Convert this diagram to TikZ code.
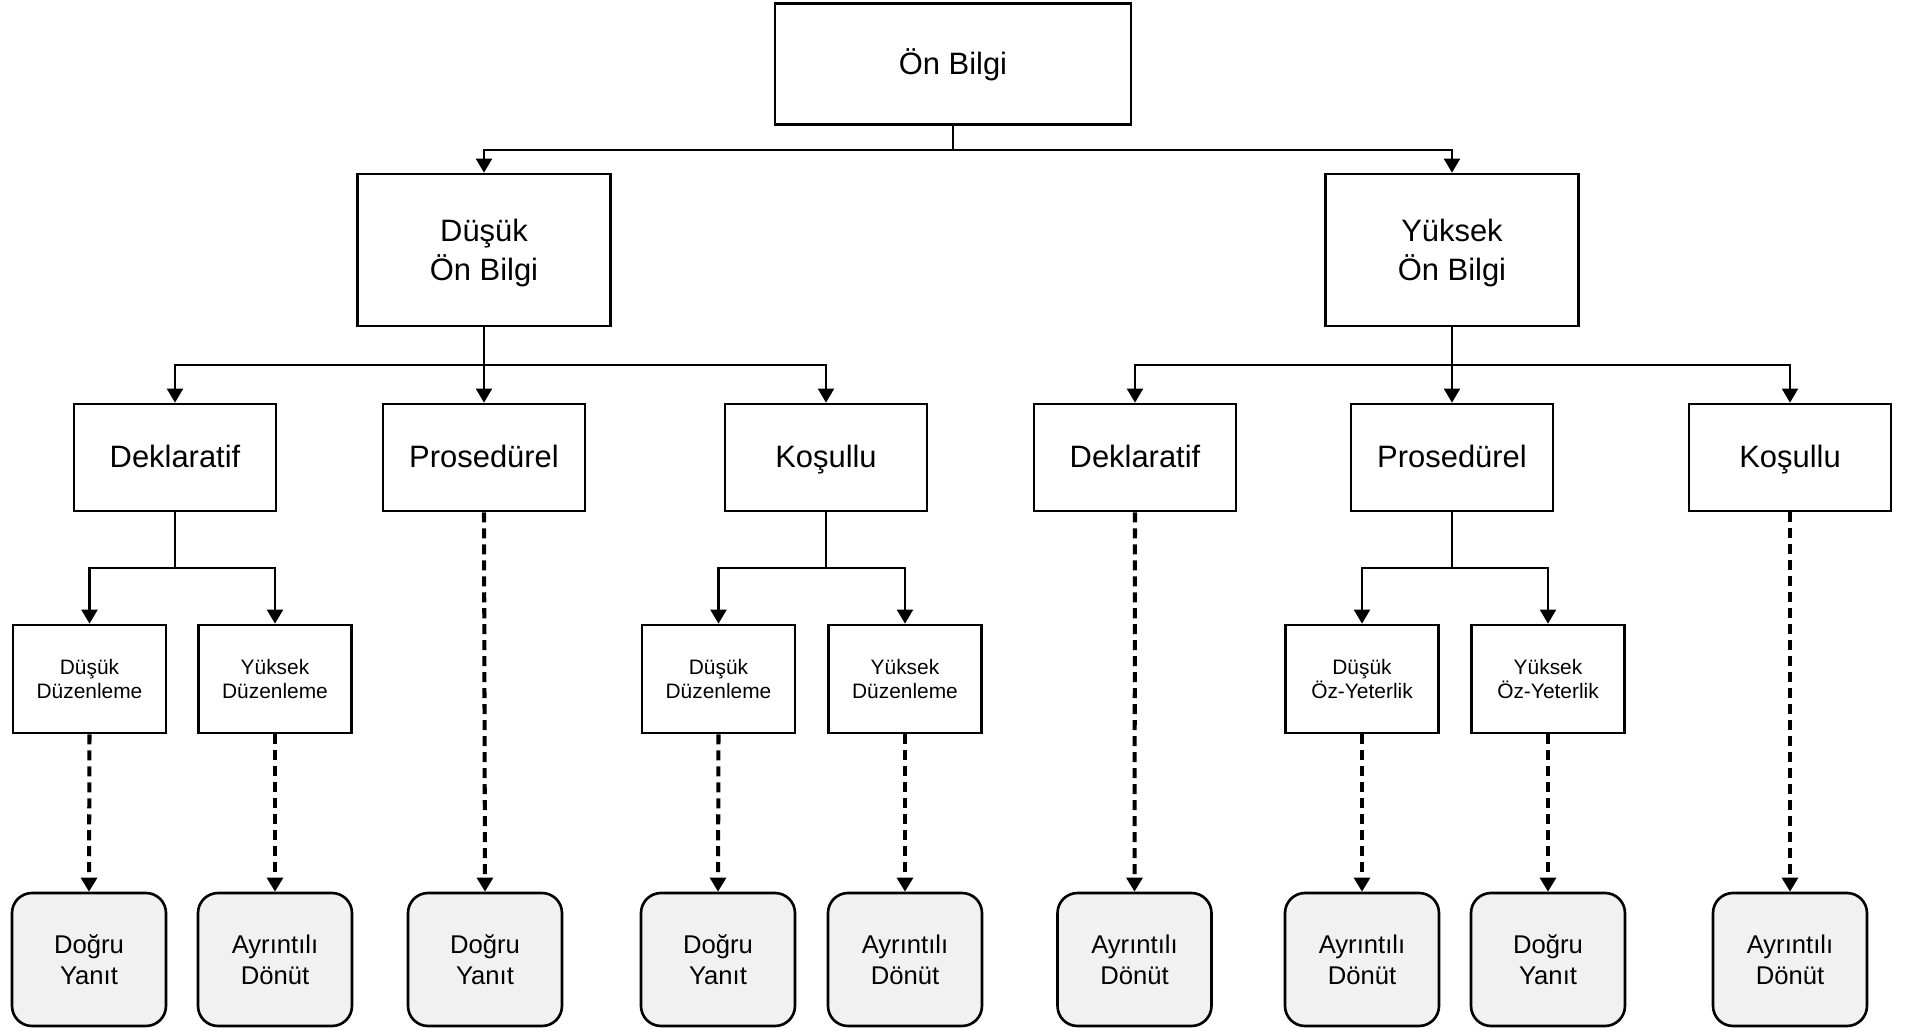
\documentclass[tikz,border=0pt]{standalone}
\usepackage{fontspec}
\setmainfont{Liberation Sans}
\usetikzlibrary{arrows.meta}
\definecolor{leafgray}{HTML}{F1F1F1}
\tikzset{
  box/.style={draw=black, line width=1.5pt, fill=white, align=center, inner sep=0pt},
  bigbox/.style={box, font=\fontsize{17.6}{22.3}\selectfont},
  levelbox/.style={bigbox, text depth=0pt},
  typebox/.style={bigbox, text height=12.6pt, text depth=0.8pt},
  smallbox/.style={box, font=\fontsize{11.9}{13.7}\selectfont},
  leaf/.style={draw=black, line width=1.5pt, fill=leafgray, rounded corners=0.4cm,
    align=center, inner sep=0pt, font=\fontsize{14.6}{17.5}\selectfont},
  conn/.style={line width=1.5pt},
  arr/.style={conn, -{Triangle[width=9pt,length=8pt]}},
  darr/.style={line width=2.3pt, dash pattern=on 5.7pt off 3.4pt,
    -{Triangle[width=9pt,length=8pt]}},
}
\begin{document}
\begin{tikzpicture}[x=0.02cm, y=-0.02cm]
\useasboundingbox (0,0) rectangle (1908,1031);

% root
\node[typebox, minimum width=7.12cm, minimum height=2.42cm] (root) at (953,64) {Ön Bilgi};

% prior knowledge levels
\node[levelbox, minimum width=5.06cm, minimum height=3.04cm] (low) at (484,250) {Düşük\\Ön Bilgi};
\node[levelbox, minimum width=5.06cm, minimum height=3.04cm] (high) at (1452,250) {Yüksek\\Ön Bilgi};

% knowledge types
\foreach \n/\x/\t in {ld/175/Deklaratif, lp/484/Prosedürel, lk/826/Koşullu,
                      hd/1135/Deklaratif, hp/1452/Prosedürel, hk/1790/Koşullu}
  \node[typebox, minimum width=4.04cm, minimum height=2.14cm] (\n) at (\x,457.5) {\t};

% moderators
\node[smallbox, minimum width=3.06cm, minimum height=2.16cm] (ldl) at (89.5,679) {Düşük\\Düzenleme};
\node[smallbox, minimum width=3.06cm, minimum height=2.16cm] (ldh) at (275,679) {Yüksek\\Düzenleme};
\node[smallbox, minimum width=3.06cm, minimum height=2.16cm] (lkl) at (718.5,679) {Düşük\\Düzenleme};
\node[smallbox, minimum width=3.06cm, minimum height=2.16cm] (lkh) at (905,679) {Yüksek\\Düzenleme};
\node[smallbox, minimum width=3.06cm, minimum height=2.16cm] (hpl) at (1362,679) {Düşük\\Öz-Yeterlik};
\node[smallbox, minimum width=3.06cm, minimum height=2.16cm] (hph) at (1548,679) {Yüksek\\Öz-Yeterlik};

% feedback outcomes
\foreach \n/\x/\t in {o1/89/{Doğru\\Yanıt}, o2/275/{Ayrıntılı\\Dönüt}, o3/485/{Doğru\\Yanıt},
                      o4/718/{Doğru\\Yanıt}, o5/905/{Ayrıntılı\\Dönüt}, o6/1134.5/{Ayrıntılı\\Dönüt},
                      o7/1362/{Ayrıntılı\\Dönüt}, o8/1548/{Doğru\\Yanıt}, o9/1790/{Ayrıntılı\\Dönüt}}
  \node[leaf, minimum width=3.08cm, minimum height=2.66cm] (\n) at (\x,959.5) {\t};

% junction points
\coordinate (j0) at (953,150);
\coordinate (jl) at (484,365);
\coordinate (jh) at (1452,365);
\coordinate (jld) at (175,568);
\coordinate (jlk) at (826,568);
\coordinate (jhp) at (1452,568);

% solid tree connectors
\draw[conn] (root.south) -- (j0);
\draw[arr] (j0) -| (low.north);
\draw[arr] (j0) -| (high.north);

\draw[conn] (low.south) -- (jl);
\draw[arr] (jl) -| (ld.north);
\draw[arr] (jl) -- (lp.north);
\draw[arr] (jl) -| (lk.north);

\draw[conn] (high.south) -- (jh);
\draw[arr] (jh) -| (hd.north);
\draw[arr] (jh) -- (hp.north);
\draw[arr] (jh) -| (hk.north);

\draw[conn] (ld.south) -- (jld);
\draw[arr] (jld) -| (ldl.north);
\draw[arr] (jld) -| (ldh.north);

\draw[conn] (lk.south) -- (jlk);
\draw[arr] (jlk) -| (lkl.north);
\draw[arr] (jlk) -| (lkh.north);

\draw[conn] (hp.south) -- (jhp);
\draw[arr] (jhp) -| (hpl.north);
\draw[arr] (jhp) -| (hph.north);

% dashed links to outcomes
\draw[darr] (ldl.south) -- (o1.north);
\draw[darr] (ldh.south) -- (o2.north);
\draw[darr] (lp.south) -- (o3.north);
\draw[darr] (lkl.south) -- (o4.north);
\draw[darr] (lkh.south) -- (o5.north);
\draw[darr] (hd.south) -- (o6.north);
\draw[darr] (hpl.south) -- (o7.north);
\draw[darr] (hph.south) -- (o8.north);
\draw[darr] (hk.south) -- (o9.north);
\end{tikzpicture}
\end{document}
